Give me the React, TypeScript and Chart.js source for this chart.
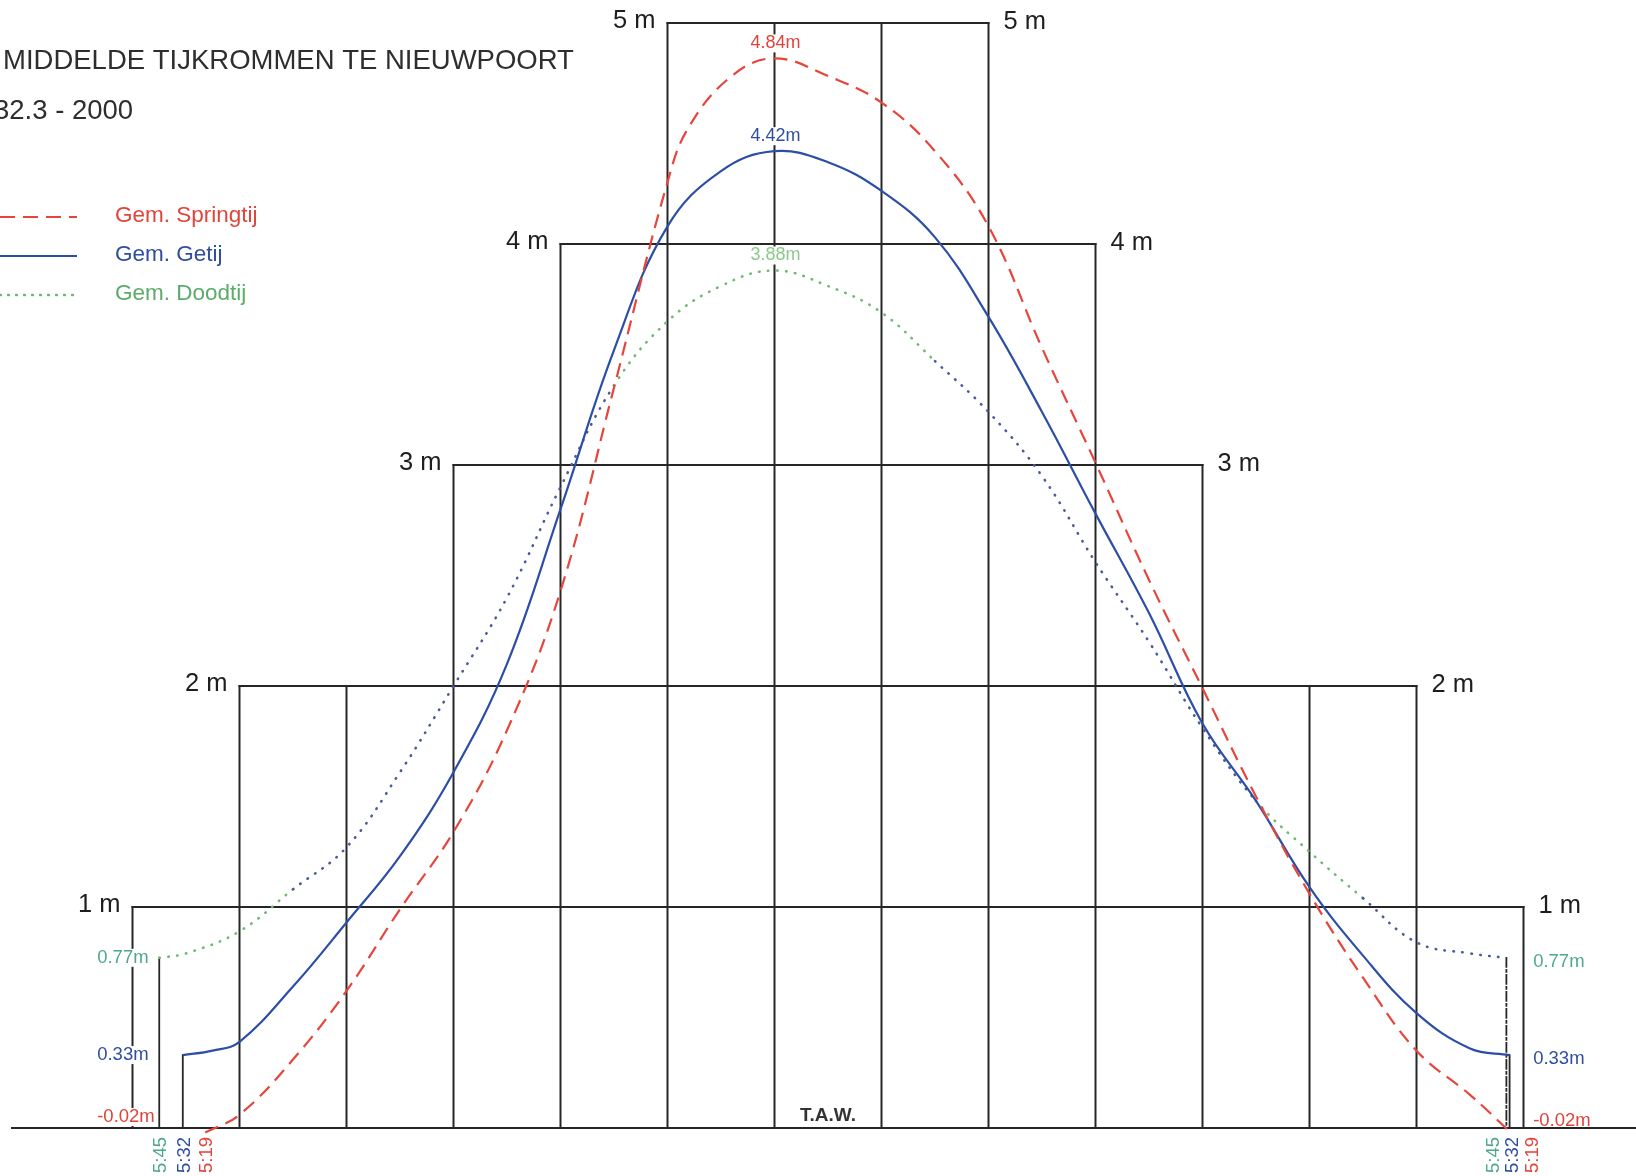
import React, { useEffect, useRef } from "react";
import { Chart, registerables } from "chart.js";

Chart.register(...registerables);

// ---------------- data ----------------
const springHours = [-5.32, -5, -4.5, -4, -3.5, -3, -2.5, -2, -1.5, -1, -0.8, -0.4, 0, 0.5, 1, 1.5, 2, 2.5, 3, 3.5, 4, 4.5, 5, 5.5, 6, 6.5, 6.88];
const springLevels = [-0.02, 0.06, 0.31, 0.62, 0.99, 1.34, 1.8, 2.43, 3.35, 4.28, 4.53, 4.76, 4.84, 4.76, 4.64, 4.42, 4.08, 3.53, 3.01, 2.48, 1.99, 1.5, 1.06, 0.68, 0.35, 0.15, -0.02];

const meanHours = [-5.53, -5.25, -5, -4.5, -4, -3.5, -3, -2.5, -2, -1.5, -1, -0.5, 0, 0.5, 1, 1.5, 2, 2.5, 3, 3.5, 4, 4.5, 5, 5.5, 6, 6.5, 6.87];
const meanLevels = [0.33, 0.35, 0.39, 0.64, 0.93, 1.23, 1.61, 2.1, 2.8, 3.52, 4.08, 4.33, 4.42, 4.37, 4.24, 4.03, 3.67, 3.24, 2.78, 2.33, 1.83, 1.48, 1.09, 0.78, 0.52, 0.36, 0.33];

const neapHours = [-5.75, -5.5, -5, -4.5, -4, -3.5, -3, -2.5, -2, -1.5, -1, -0.5, 0, 0.5, 1, 1.5, 2, 2.5, 3, 3.5, 4, 4.5, 5, 5.5, 6, 6.5, 6.84];
const neapLevels = [0.77, 0.79, 0.89, 1.08, 1.27, 1.61, 2.0, 2.4, 2.9, 3.36, 3.65, 3.81, 3.88, 3.81, 3.69, 3.47, 3.24, 2.95, 2.56, 2.2, 1.81, 1.48, 1.25, 1.04, 0.84, 0.79, 0.77];

const seriesNames = ["Gem. Springtij", "Gem. Getij", "Gem. Doodtij"];
const peakLabels = ["4.84m", "4.42m", "3.88m"];
const lowLabels = ["-0.02m", "0.33m", "0.77m"];
const riseDurations = ["5:19", "5:32", "5:45"];

const gridLevels = [1, 2, 3, 4, 5];
const gridLevelFrom = [-6, -5, -3, -2, -1];
const gridLevelTo = [7, 6, 4, 3, 2];
const gridLevelLabels = ["1 m", "2 m", "3 m", "4 m", "5 m"];
const gridHours = [-6, -5, -4, -3, -2, -1, 0, 1, 2, 3, 4, 5, 6, 7];

const titleText = "MIDDELDE TIJKROMMEN TE NIEUWPOORT";
const subtitleText = "32.3 - 2000";
const datumText = "T.A.W.";

// ---------------- layout / style ----------------
const W = 1636;
const H = 1176;
const X_MIN = -7.2383;
const X_MAX = 8.0514;
const Y_MIN = -0.2172;
const Y_MAX = 5.1041;
const BASELINE_FROM = -7.126;
const LEFT_LABEL_HOUR = -6.33;
const RIGHT_LABEL_HOUR = 7.09;

const FONT = '"Liberation Sans", Arial, Helvetica, sans-serif';
const FRAME = "#262626";
const RED = "#e6453b";
const BLUE = "#2c4ea6";
const GREEN = "#72b872";
const DOT_BLUE = "#4a5a9e";
const RED_TXT = "#e0443a";
const BLUE_TXT = "#2f4f9e";
const GREEN_TXT = "#5bab6a";
const LOW_GREEN_TXT = "#4fa88a";

const seriesColors = [RED, BLUE, GREEN];
const seriesTextColors = [RED_TXT, BLUE_TXT, GREEN_TXT];

const neapGreenRanges = [
  [-6, -4.5],
  [-1.5, 1.5],
  [4.5, 5.5],
];

function inGreen(h: number) {
  return neapGreenRanges.some(([a, b]) => h >= a && h <= b);
}

const tidePlugin = {
  id: "tideDecor",
  beforeDatasetsDraw(chart: any) {
    const { ctx, scales } = chart;
    const xs = scales.x;
    const ys = scales.y;
    const X = (h: number) => xs.getPixelForValue(h);
    const Y = (v: number) => ys.getPixelForValue(v);
    const seg = (x1: number, y1: number, x2: number, y2: number) => {
      ctx.beginPath();
      ctx.moveTo(x1, y1);
      ctx.lineTo(x2, y2);
      ctx.stroke();
    };
    ctx.save();
    ctx.strokeStyle = FRAME;
    ctx.lineWidth = 2;
    ctx.lineCap = "square";
    // baseline
    seg(X(BASELINE_FROM), Y(0), chart.width, Y(0));
    // horizontal levels
    gridLevels.forEach((lv, i) => seg(X(gridLevelFrom[i]), Y(lv), X(gridLevelTo[i]), Y(lv)));
    // vertical hour lines
    gridHours.forEach((h) => {
      let top = 0;
      gridLevels.forEach((lv, i) => {
        if (h >= gridLevelFrom[i] && h <= gridLevelTo[i]) top = Math.max(top, lv);
      });
      seg(X(h), Y(0), X(h), Y(top));
    });
    // drop lines at the ends of the curves
    ctx.lineWidth = 1.8;
    seg(X(neapHours[0]), Y(neapLevels[0]), X(neapHours[0]), Y(0));
    seg(X(meanHours[0]), Y(meanLevels[0]), X(meanHours[0]), Y(0));
    const nl = neapHours.length - 1;
    const ml = meanHours.length - 1;
    ctx.setLineDash([9, 3, 2, 3]);
    seg(X(neapHours[nl]), Y(neapLevels[nl]), X(neapHours[nl]), Y(0));
    ctx.setLineDash([]);
    seg(X(meanHours[ml]), Y(meanLevels[ml]), X(meanHours[ml]), Y(0));

    // level labels
    ctx.fillStyle = "#1e1e1e";
    ctx.font = `25.5px ${FONT}`;
    ctx.textBaseline = "middle";
    gridLevels.forEach((lv, i) => {
      ctx.textAlign = "right";
      ctx.fillText(gridLevelLabels[i], X(gridLevelFrom[i]) - 12, Y(lv) - 2);
      ctx.textAlign = "left";
      ctx.fillText(gridLevelLabels[i], X(gridLevelTo[i]) + 15, Y(lv) - 1);
    });

    // title
    ctx.fillStyle = "#2e2e2e";
    ctx.font = `27.5px ${FONT}`;
    ctx.textAlign = "left";
    ctx.fillText(titleText, 3, 61);
    ctx.fillText(subtitleText, -6, 111);

    // legend
    const legendY = [217, 256, 295];
    const dashes = [[15, 8], [], [1, 7]];
    seriesNames.forEach((name, i) => {
      ctx.strokeStyle = seriesColors[i];
      ctx.lineWidth = i === 2 ? 2.4 : 2.2;
      ctx.lineCap = i === 2 ? "round" : "butt";
      ctx.setLineDash(dashes[i]);
      seg(0, legendY[i], 77, legendY[i]);
      ctx.setLineDash([]);
      ctx.fillStyle = seriesTextColors[i];
      ctx.font = `22.5px ${FONT}`;
      ctx.fillText(name, 115, legendY[i] - 1);
    });

    // datum label
    ctx.fillStyle = "#333";
    ctx.font = `bold 19px ${FONT}`;
    ctx.textAlign = "center";
    ctx.fillText(datumText, X(0.5), Y(0) - 12);
    ctx.restore();
  },
  afterDatasetsDraw(chart: any) {
    const { ctx, scales } = chart;
    const xs = scales.x;
    const ys = scales.y;
    const X = (h: number) => xs.getPixelForValue(h);
    const Y = (v: number) => ys.getPixelForValue(v);
    const label = (text: string, x: number, y: number, align: CanvasTextAlign, color: string, box: boolean) => {
      ctx.textAlign = align;
      const w = ctx.measureText(text).width;
      const left = align === "center" ? x - w / 2 : align === "right" ? x - w : x;
      if (box) {
        ctx.fillStyle = "#ffffff";
        ctx.fillRect(left - 2, y - 9, w + 4, 18);
      }
      ctx.fillStyle = color;
      ctx.fillText(text, x, y);
    };
    ctx.save();
    ctx.textBaseline = "middle";
    ctx.font = `18px ${FONT}`;
    const peaks = [Math.max(...springLevels), Math.max(...meanLevels), Math.max(...neapLevels)];
    const peakColors = [RED_TXT, BLUE_TXT, "#8cc98c"];
    peaks.forEach((p, i) => label(peakLabels[i], X(0) + 1, Y(p) - 15, "center", peakColors[i], true));

    const lows = [springLevels[0], meanLevels[0], neapLevels[0]];
    const lowColors = [RED_TXT, BLUE_TXT, LOW_GREEN_TXT];
    ctx.font = `18.5px ${FONT}`;
    lows.forEach((v, i) => {
      const yy = Math.min(Y(v), Y(0) - 11);
      label(lowLabels[i], X(LEFT_LABEL_HOUR), yy, "left", lowColors[i], true);
      label(lowLabels[i], X(RIGHT_LABEL_HOUR), yy + 4, "left", lowColors[i], false);
    });

    // rotated rise durations
    const startHours = [springHours[0], meanHours[0], neapHours[0]];
    const rightOffsets = [0, -20, -39];
    ctx.font = `18.5px ${FONT}`;
    startHours.forEach((h, i) => {
      const color = lowColors[i];
      const spots = [X(h) + 2, X(RIGHT_LABEL_HOUR) + rightOffsets[i]];
      spots.forEach((sx) => {
        ctx.save();
        ctx.translate(sx, Y(0) + 9);
        ctx.rotate(-Math.PI / 2);
        ctx.textAlign = "right";
        ctx.textBaseline = "middle";
        ctx.fillStyle = color;
        ctx.fillText(riseDurations[i], 0, 0);
        ctx.restore();
      });
    });
    ctx.restore();
  },
};

const toPoints = (xs: number[], ys: number[]) => xs.map((x, i) => ({ x, y: ys[i] }));

export default function App() {
  const ref = useRef<HTMLCanvasElement | null>(null);
  useEffect(() => {
    if (!ref.current) return;
    const chart = new Chart(ref.current, {
      type: "line",
      data: {
        datasets: [
          {
            label: seriesNames[0],
            data: toPoints(springHours, springLevels),
            borderColor: RED,
            borderWidth: 2.2,
            borderDash: [14, 8],
            tension: 0.4,
            pointRadius: 0,
            fill: false,
            clip: false as any,
          },
          {
            label: seriesNames[1],
            data: toPoints(meanHours, meanLevels),
            borderColor: BLUE,
            borderWidth: 2.2,
            tension: 0.4,
            pointRadius: 0,
            fill: false,
            clip: false as any,
          },
          {
            label: seriesNames[2],
            data: toPoints(neapHours, neapLevels),
            borderColor: GREEN,
            borderWidth: 2.6,
            borderDash: [0.5, 8.5],
            borderCapStyle: "round",
            tension: 0.4,
            pointRadius: 0,
            fill: false,
            clip: false as any,
            segment: {
              borderColor: (c: any) => {
                const mid = (c.p0.parsed.x + c.p1.parsed.x) / 2;
                return inGreen(mid) ? GREEN : DOT_BLUE;
              },
            },
          },
        ],
      },
      options: {
        responsive: false,
        animation: false,
        parsing: true,
        layout: { padding: 0 },
        scales: {
          x: { type: "linear", min: X_MIN, max: X_MAX, display: false },
          y: { type: "linear", min: Y_MIN, max: Y_MAX, display: false },
        },
        plugins: {
          legend: { display: false },
          tooltip: { enabled: false },
          title: { display: false },
        },
      },
      plugins: [tidePlugin as any],
    });
    return () => chart.destroy();
  }, []);
  return (
    <div style={{ position: "fixed", left: 0, top: 0, width: W, height: H, background: "#ffffff" }}>
      <canvas ref={ref} width={W} height={H} style={{ display: "block", width: W, height: H }} />
    </div>
  );
}
